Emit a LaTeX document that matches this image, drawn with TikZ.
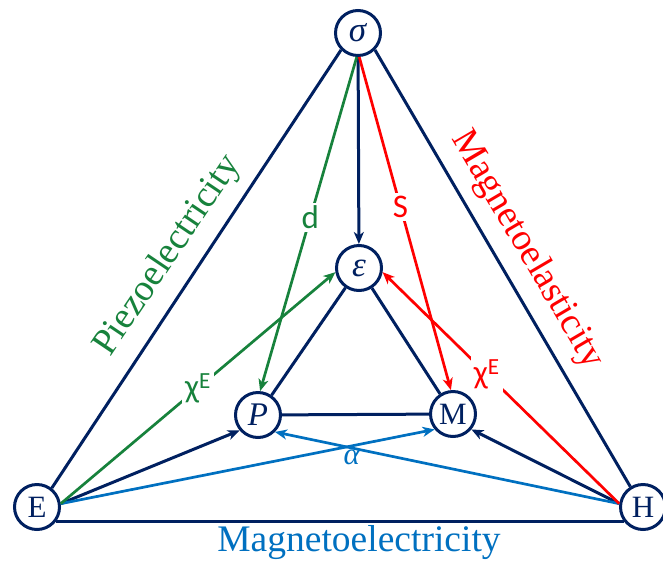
\documentclass[tikz,border=0pt]{standalone}
\usepackage{fontspec}
\setmainfont{Liberation Serif}
\newfontfamily\lblfont{Carlito}
\usetikzlibrary{arrows.meta}
\definecolor{navy}{HTML}{002060}
\definecolor{pgreen}{HTML}{17823C}
\definecolor{pred}{HTML}{FF0000}
\definecolor{pblue}{HTML}{0070C0}
\begin{document}
\begin{tikzpicture}[x=1pt,y=-1pt,
  st/.style={circle, draw=navy, line width=3pt, fill=white, minimum size=45pt, inner sep=0pt,
             font=\fontsize{31}{31}\selectfont, text=navy},
  nv/.style={draw=navy, line width=3pt},
  cl/.style={line width=2.7pt},
  arr/.style={-{Stealth[length=12pt,width=10pt,inset=3.5pt]}},
  lbl/.style={fill=white, inner sep=3pt, font=\lblfont\fontsize{33}{33}\selectfont},
  big/.style={font=\fontsize{37.5}{37.5}\selectfont}]
\useasboundingbox (0,0) rectangle (663,565);
% nodes
\node[st] (sigma) at (358,33) {\fontsize{35}{35}\selectfont\textit{σ}};
\node[st] (eps) at (359,268) {\fontsize{35}{35}\selectfont\textit{ε}};
\node[st] (P) at (258,415) {\fontsize{33}{33}\selectfont\textit{P}};
\node[st] (M) at (453,414) {M};
\node[st] (E) at (37,507) {E};
\node[st] (H) at (643,507) {H};
% outer triangle
\draw[nv] (sigma.-135) -- (E.52);
\draw[nv] (sigma.-45) -- (H.122);
\draw[nv] (E.-37) -- (H.-143);
% inner triangle
\draw[nv] (eps) -- (P);
\draw[nv] (eps) -- (M);
\draw[nv] (P) -- (M);
\draw[nv,arr] (sigma) -- (eps);
\draw[nv,arr] (E.8) -- (P.220);
\draw[nv,arr] (H.172) -- (M.-40);
% alpha
\draw[cl,pblue,arr] (E.8) -- (M.220);
\draw[cl,pblue,arr] (H.172) -- (P.-45);
\node[text=pblue, font=\fontsize{31}{31}\selectfont] (alpha) at (352,457) {\textit{α}};
% green
\draw[cl,pgreen,arr] (sigma.-93) -- (P.85) node[lbl, text=pgreen, pos=0.48] (d) {d};
\draw[cl,pgreen,arr] (E.8) -- (eps.190) node[lbl, text=pgreen, pos=0.5] (chiG) {χ\textsuperscript{E}};
% red
\draw[cl,pred,arr] (sigma.-87) -- (M.95) node[lbl, text=pred, pos=0.45] (S) {S};
\draw[cl,pred,arr] (H.172) -- (eps.-10) node[lbl, text=pred, pos=0.56] (chiR) {χ\textsuperscript{E}};
% titles
\node[big, text=pgreen, rotate=56] (piezo) at (168,256) {Piezoelectricity};
\node[big, text=pred, rotate=-59.5] (mel) at (527,250) {Magnetoelasticity};
\node[big, text=pblue] (mee) at (359,543) {Magnetoelectricity};
\end{tikzpicture}
\end{document}
